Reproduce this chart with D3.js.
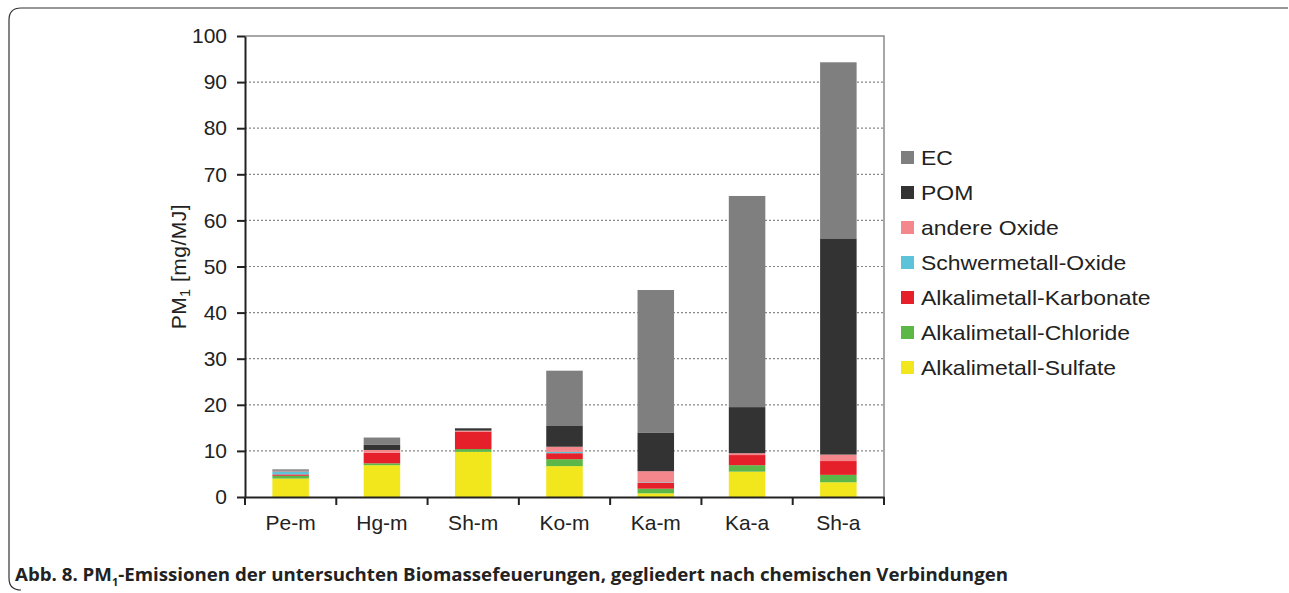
<!DOCTYPE html>
<html>
<head>
<meta charset="utf-8">
<script src="https://cdn.jsdelivr.net/npm/d3@7.9.0/dist/d3.min.js"></script>
<style>
  body { margin: 0; background: #fff; }
  svg { display: block; }
</style>
</head>
<body>
<svg id="chart" width="1289" height="593"></svg>
<script>
// categories (firing systems)
const categories = ['Pe-m', 'Hg-m', 'Sh-m', 'Ko-m', 'Ka-m', 'Ka-a', 'Sh-a'];

// components, bottom to top
const seriesNames = ['Alkalimetall-Sulfate', 'Alkalimetall-Chloride', 'Alkalimetall-Karbonate',
  'Schwermetall-Oxide', 'andere Oxide', 'POM', 'EC'];
const seriesColors = ['#f2e71c', '#5bb748', '#e6202a', '#5cc3d9', '#f3878b', '#333333', '#7f7f7f'];

// values in mg/MJ, one per category
const sulfate     = [4.0, 6.9, 9.8, 6.7, 0.8, 5.5, 3.2];
const chloride    = [0.6, 0.4, 0.6, 1.5, 1.0, 1.4, 1.6];
const karbonate   = [0.3, 2.3, 3.8, 1.3, 1.3, 2.2, 3.0];
const schwermetal = [0.6, 0.0, 0.0, 0.3, 0.1, 0.0, 0.0];
const andere      = [0.1, 0.6, 0.2, 1.1, 2.4, 0.4, 1.4];
const pom         = [0.1, 1.1, 0.5, 4.5, 8.4, 10.0, 46.9];
const ec          = [0.3, 1.6, 0.0, 12.0, 30.9, 45.8, 38.2];

const yTicks = d3.range(0, 101, 10);

const table = categories.map((c, i) => ({
  cat: c,
  'Alkalimetall-Sulfate': sulfate[i],
  'Alkalimetall-Chloride': chloride[i],
  'Alkalimetall-Karbonate': karbonate[i],
  'Schwermetall-Oxide': schwermetal[i],
  'andere Oxide': andere[i],
  'POM': pom[i],
  'EC': ec[i]
}));

const svg = d3.select('#chart');
const font = "'Liberation Sans', Arial, sans-serif";

// outer frame (top and left sides, rounded)
svg.append('path')
  .attr('d', 'M1288,8 H21 Q9,8 9,20 V578 Q9,590 21,590')
  .attr('fill', 'none')
  .attr('stroke', '#333')
  .attr('stroke-width', 1.2);

const plot = { left: 245, right: 884, top: 36, bottom: 497 };

const x = d3.scaleBand()
  .domain(categories)
  .range([plot.left, plot.right])
  .paddingInner(0.6)
  .paddingOuter(0.3);

const y = d3.scaleLinear().domain([0, 100]).range([plot.bottom, plot.top]);

// gridlines
svg.append('g')
  .selectAll('line')
  .data(yTicks.filter(d => d > 0 && d < 100))
  .join('line')
    .attr('x1', plot.left).attr('x2', plot.right)
    .attr('y1', d => y(d)).attr('y2', d => y(d))
    .attr('stroke', '#888')
    .attr('stroke-width', 1.2)
    .attr('stroke-dasharray', '2,2');

// top and right frame of plot area
svg.append('path')
  .attr('d', `M${plot.left},${plot.top} H${plot.right} V${plot.bottom}`)
  .attr('fill', 'none')
  .attr('stroke', '#8a8a8a')
  .attr('stroke-width', 1.5);

// stacked bars
const stack = d3.stack().keys(seriesNames);
const layers = stack(table);

svg.append('g')
  .selectAll('g')
  .data(layers)
  .join('g')
    .attr('fill', (d, i) => seriesColors[i])
  .selectAll('rect')
  .data(d => d)
  .join('rect')
    .attr('x', d => x(d.data.cat))
    .attr('width', x.bandwidth())
    .attr('y', d => y(d[1]))
    .attr('height', d => y(d[0]) - y(d[1]));

// y axis
const yAxis = svg.append('g')
  .attr('transform', `translate(${plot.left},0)`)
  .call(d3.axisLeft(y).tickValues(yTicks).tickSize(8).tickPadding(10).tickSizeOuter(0));
yAxis.select('.domain').attr('stroke', '#222').attr('stroke-width', 2);
yAxis.selectAll('.tick line').attr('stroke', '#222').attr('stroke-width', 2);
yAxis.selectAll('.tick text').attr('font-size', 21).attr('fill', '#222').attr('font-family', font);

// x axis with ticks between categories
const xAxis = svg.append('g')
  .attr('transform', `translate(0,${plot.bottom})`)
  .call(d3.axisBottom(x).tickSize(0).tickPadding(15).tickSizeOuter(0));
xAxis.select('.domain').attr('stroke', '#222').attr('stroke-width', 2);
xAxis.selectAll('.tick text').attr('font-size', 21).attr('fill', '#222').attr('font-family', font)
  .attr('dy', '0.85em');
xAxis.selectAll('line.sep')
  .data(d3.range(categories.length + 1))
  .join('line')
    .attr('class', 'sep')
    .attr('x1', i => plot.left + i * x.step())
    .attr('x2', i => plot.left + i * x.step())
    .attr('y1', 0).attr('y2', 8)
    .attr('stroke', '#222').attr('stroke-width', 2);

// y label
const yl = svg.append('text')
  .attr('transform', `translate(186,${(plot.top + plot.bottom) / 2}) rotate(-90)`)
  .attr('text-anchor', 'middle')
  .attr('font-family', font)
  .attr('font-size', 21)
  .attr('letter-spacing', 0.5)
  .attr('fill', '#222');
yl.append('tspan').text('PM');
yl.append('tspan').attr('font-size', 14).attr('dy', 4).text('1');
yl.append('tspan').attr('dy', -4).text(' [mg/MJ]');

// legend (top to bottom EC ... Sulfate)
const legendItems = seriesNames.map((n, i) => ({ name: n, color: seriesColors[i] })).reverse();
const legend = svg.append('g').attr('transform', 'translate(901,151)');
const li = legend.selectAll('g')
  .data(legendItems)
  .join('g')
    .attr('transform', (d, i) => `translate(0,${i * 35})`);
li.append('rect')
  .attr('width', 13).attr('height', 13)
  .attr('fill', d => d.color);
li.append('text')
  .attr('transform', 'translate(20,7) scale(1.12,1)')
  .attr('dy', '0.36em')
  .attr('font-family', font)
  .attr('font-size', 20.5)
  .attr('fill', '#222')
  .text(d => d.name);

// caption
const cap = svg.append('text')
  .attr('x', 15).attr('y', 581)
  .attr('font-family', "'Open Sans', sans-serif")
  .attr('font-weight', 'bold')
  .attr('font-size', 17)
  .attr('fill', '#222')
  .attr('textLength', 993)
  .attr('lengthAdjust', 'spacingAndGlyphs');
cap.append('tspan').text('Abb. 8. PM');
cap.append('tspan').attr('font-size', 10).attr('dy', 5).text('1');
cap.append('tspan').attr('dy', -5).text('-Emissionen der untersuchten Biomassefeuerungen, gegliedert nach chemischen Verbindungen');
</script>
</body>
</html>
